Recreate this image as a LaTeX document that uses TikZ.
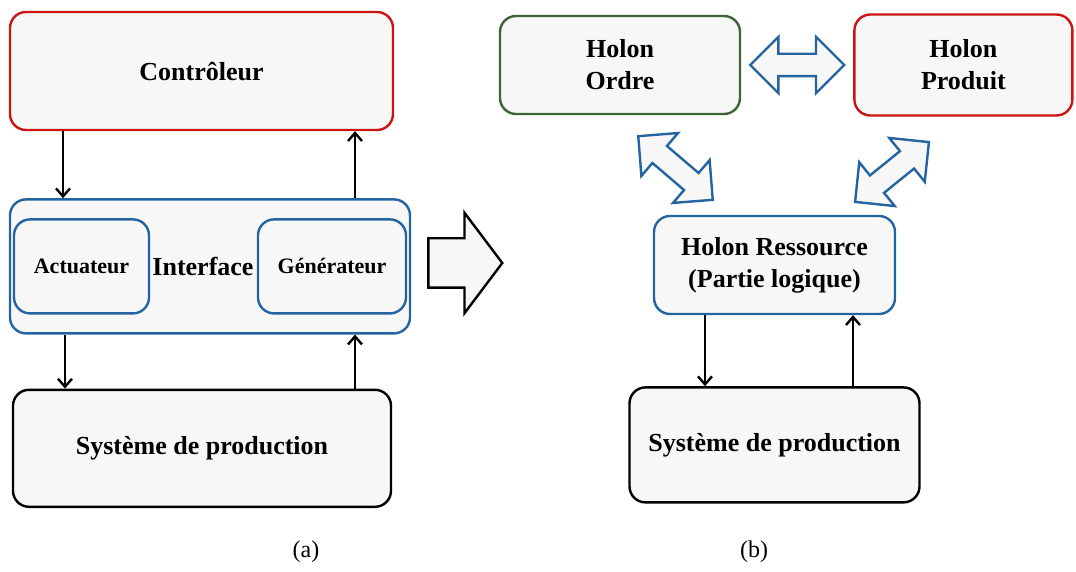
\documentclass[tikz,border=0pt]{standalone}
\usepackage{fontspec}
\setmainfont{Liberation Serif}
\usetikzlibrary{positioning, arrows.meta, calc, shapes.arrows}
\definecolor{holonred}{RGB}{204,20,20}
\definecolor{holonblue}{RGB}{36,100,160}
\definecolor{holongreen}{RGB}{60,100,55}
\definecolor{holonfill}{RGB}{247,247,247}

\begin{document}
\begin{tikzpicture}[
        x=0.5pt, y=-0.5pt,
        block/.style={rectangle, draw, line width=1.2pt, rounded corners=8pt, fill=holonfill, align=center, inner sep=0pt, font=\fontsize{13}{16}\selectfont\bfseries},
        subblock/.style={block, draw=holonblue, minimum height=47pt, font=\fontsize{11}{13}\selectfont\bfseries},
        arrow/.style={->, >={Straight Barb[length=4pt,width=7pt]}, line width=1.2pt},
        dblarrow/.style={double arrow, draw=holonblue, line width=1.2pt, fill=holonfill, inner xsep=0pt, inner ysep=5pt, double arrow head extend=8.5pt, double arrow tip angle=90},
        caption/.style={font=\fontsize{12}{14}\selectfont}
    ]
        \useasboundingbox (0,0) rectangle (1076,572);

        % (a) Classical control
        \node[block, draw=holonred, minimum width=191.5pt, minimum height=59pt] (ctrl) at (201.5,71) {Contrôleur};
        \node[block, draw=holonblue, minimum width=200pt, minimum height=67pt, below=33.5pt of ctrl, xshift=4.25pt] (iface) {};
        \node[font=\fontsize{13}{16}\selectfont\bfseries, xshift=-3.5pt] (ifacelabel) at (iface.center) {Interface};
        \node[subblock, minimum width=67.5pt, right=2pt of iface.west] (act) {Actuateur};
        \node[subblock, minimum width=74pt, left=2pt of iface.east] (gen) {Générateur};
        \node[block, draw=black, minimum width=189pt, minimum height=58.5pt, below=27pt of iface, xshift=-4pt] (sysa) {Système de production};

        % Signals
        \draw[arrow] (63,0 |- ctrl.south) -- (63,0 |- iface.north);
        \draw[arrow] (355,0 |- iface.north) -- (355,0 |- ctrl.south);
        \draw[arrow] (65,0 |- iface.south) -- (65,0 |- sysa.north);
        \draw[arrow] (355,0 |- sysa.north) -- (355,0 |- iface.south);

        % Transition
        \node[single arrow, draw, line width=1.2pt, fill=holonfill, inner xsep=0pt, inner ysep=11.75pt, minimum height=37pt, single arrow head extend=12.75pt, single arrow tip angle=106] (shift) at (456,263) {};

        % (b) Holonic control
        \node[block, draw=holongreen, minimum width=120pt, minimum height=49pt] (ordre) at (620,65) {Holon\\Ordre};
        \node[block, draw=holonred, minimum width=109pt, minimum height=50.5pt, right=56pt of ordre] (produit) {Holon\\Produit};
        \node[block, draw=holonblue, minimum width=120.5pt, minimum height=49pt] (res) at (774.5,265) {Holon Ressource\\(Partie logique)};
        \node[block, draw=black, minimum width=145pt, minimum height=57.5pt, below=35.5pt of res] (sysb) {Système de production};

        % Cooperation
        \node[dblarrow, minimum height=47pt] (op) at ($(ordre.east)!0.5!(produit.west)$) {};
        \node[dblarrow, minimum height=49pt, rotate=139.5] (or) at (675.5,168) {};
        \node[dblarrow, minimum height=47.5pt, rotate=39] (pr) at (892,172) {};

        \draw[arrow] (705,0 |- res.south) -- (705,0 |- sysb.north);
        \draw[arrow] (853,0 |- sysb.north) -- (853,0 |- res.south);

        % Captions
        \node[caption] (capa) at (306,552) {(a)};
        \node[caption] (capb) at (754,552) {(b)};
    \end{tikzpicture}
\end{document}
